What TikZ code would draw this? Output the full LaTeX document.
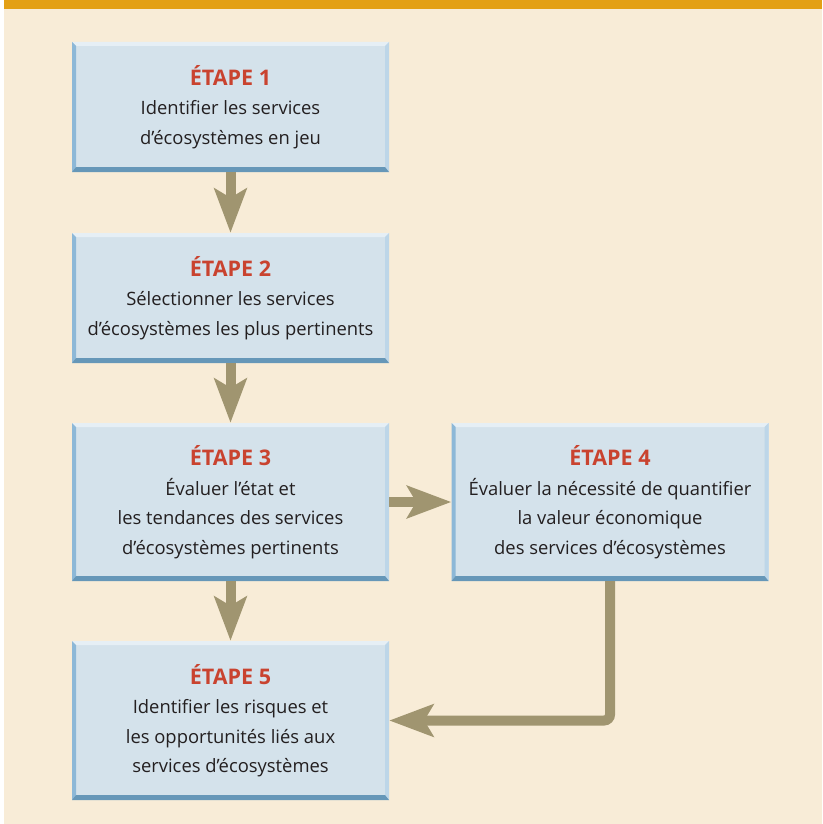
\documentclass[tikz,border=0pt]{standalone}
\usepackage{fontspec}
\setmainfont{Open Sans}
\usetikzlibrary{arrows.meta,calc}

\definecolor{paper}{HTML}{F8ECD7}
\definecolor{band}{HTML}{E3A015}
\definecolor{boxfill}{HTML}{D4E2EB}
\definecolor{bvtop}{HTML}{E6EFF5}
\definecolor{bvleft}{HTML}{8DB8D7}
\definecolor{bvbot}{HTML}{6697B8}
\definecolor{bvright}{HTML}{BDD6E8}
\definecolor{flowc}{HTML}{A09570}
\definecolor{steptitle}{HTML}{C9432F}
\definecolor{bodytext}{HTML}{231F20}

\tikzset{
  stepbox/.style={
    rectangle, fill=boxfill, inner sep=0pt, minimum width=317pt,
    align=center, text=bodytext,
    font=\fontsize{18.4pt}{29.5pt}\selectfont,
    path picture={
      \coordinate (nw) at (path picture bounding box.north west);
      \coordinate (ne) at (path picture bounding box.north east);
      \coordinate (sw) at (path picture bounding box.south west);
      \coordinate (se) at (path picture bounding box.south east);
      \fill[bvtop] (nw) -- (ne) -- ([shift={(-4pt,-4pt)}]ne) -- ([shift={(4pt,-4pt)}]nw) -- cycle;
      \fill[bvleft] (nw) -- ([shift={(4pt,-4pt)}]nw) -- ([shift={(4pt,5pt)}]sw) -- (sw) -- cycle;
      \fill[bvright] (ne) -- (se) -- ([shift={(-4pt,5pt)}]se) -- ([shift={(-4pt,-4pt)}]ne) -- cycle;
      \fill[bvbot] (sw) -- (se) -- ([shift={(-4pt,5pt)}]se) -- ([shift={(4pt,5pt)}]sw) -- cycle;
    }
  },
  flow/.style={draw=flowc, line width=10pt,
    -{Stealth[length=44pt,width=32pt,inset=9pt]}},
}
\newcommand{\steptitle}[1]{{\color{steptitle}\fontsize{21.5pt}{29.5pt}\selectfont\bfseries ÉTAPE #1}}

\begin{document}
\begin{tikzpicture}[x=1pt,y=-1pt]
  \useasboundingbox (0,0) rectangle (822,824);
  % page background and header band
  \fill[white] (0,0) rectangle (822,824);
  \fill[paper] (4,9) rectangle (822,824);
  \fill[band] (4,0) rectangle (822,9);

  % steps
  \node[stepbox, minimum height=130pt] (b1) at (230.5,107)
    {\steptitle{1}\\Identifier les services\\d’écosystèmes en jeu};
  \node[stepbox, minimum height=130pt] (b2) at (230.5,298)
    {\steptitle{2}\\Sélectionner les services\\d’écosystèmes les plus pertinents};
  \node[stepbox, minimum height=158pt] (b3) at (230.5,502)
    {\steptitle{3}\\Évaluer l’état et\\les tendances des services\\d’écosystèmes pertinents};
  \node[stepbox, minimum height=158pt] (b4) at (610,502)
    {\steptitle{4}\\Évaluer la nécessité de quantifier\\la valeur économique\\des services d’écosystèmes};
  \node[stepbox, minimum height=159pt] (b5) at (230.5,720.5)
    {\steptitle{5}\\Identifier les risques et\\les opportunités liés aux\\services d’écosystèmes};

  % connectors
  \draw[flow] (b1) -- (b2);
  \draw[flow] (b2) -- (b3);
  \draw[flow] (b3) -- (b5);
  \draw[flow] (b3) -- (b4);
  \draw[flow, rounded corners=6pt] (b4.south) |- (b5.east);
\end{tikzpicture}
\end{document}
